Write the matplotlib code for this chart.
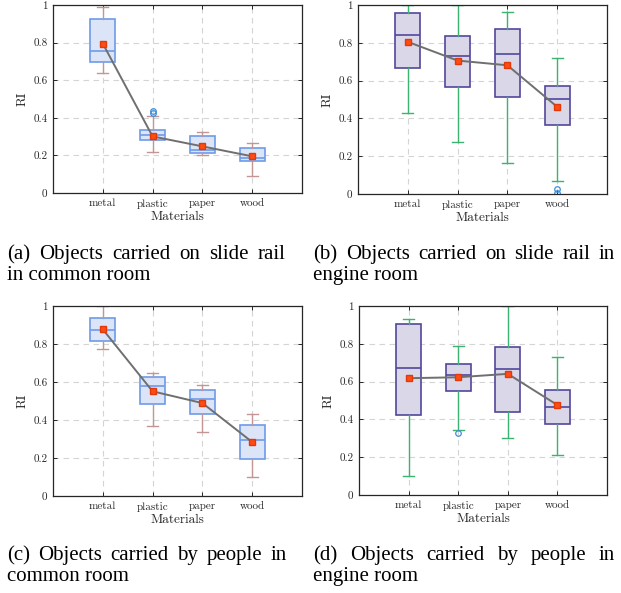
import matplotlib
matplotlib.use("Agg")
import matplotlib.pyplot as plt

plt.rcParams['font.family'] = ['cmr10', 'DejaVu Serif']
plt.rcParams['axes.formatter.use_mathtext'] = True

materials = ["metal", "plastic", "paper", "wood"]
ytick_labels = ["0", "0.2", "0.4", "0.6", "0.8", "1"]

# (a) slide rail, common room
a_q1 = [0.699, 0.280, 0.212, 0.168]
a_med = [0.756, 0.308, 0.228, 0.184]
a_q3 = [0.926, 0.333, 0.301, 0.242]
a_lo = [0.637, 0.218, 0.202, 0.088]
a_hi = [0.988, 0.407, 0.322, 0.264]
a_mean = [0.795, 0.301, 0.248, 0.195]
a_fliers = [[], [0.425, 0.437], [], []]

# (b) slide rail, engine room
b_q1 = [0.669, 0.565, 0.512, 0.364]
b_med = [0.842, 0.729, 0.741, 0.505]
b_q3 = [0.960, 0.835, 0.871, 0.570]
b_lo = [0.430, 0.276, 0.165, 0.070]
b_hi = [1.0, 1.0, 0.965, 0.722]
b_mean = [0.805, 0.706, 0.681, 0.461]
b_fliers = [[], [], [], [0.028, 0.006]]

# (c) people, common room
c_q1 = [0.816, 0.482, 0.430, 0.195]
c_med = [0.872, 0.577, 0.509, 0.296]
c_q3 = [0.937, 0.628, 0.558, 0.375]
c_lo = [0.775, 0.367, 0.339, 0.100]
c_hi = [1.0, 0.647, 0.584, 0.432]
c_mean = [0.877, 0.551, 0.489, 0.284]
c_fliers = [[], [], [], []]

# (d) people, engine room
d_q1 = [0.425, 0.550, 0.437, 0.377]
d_med = [0.674, 0.634, 0.669, 0.464]
d_q3 = [0.906, 0.692, 0.782, 0.556]
d_lo = [0.103, 0.342, 0.301, 0.212]
d_hi = [0.929, 0.789, 1.0, 0.729]
d_mean = [0.618, 0.623, 0.641, 0.476]
d_fliers = [[], [0.329], [], []]

captions = [
    ("(a) Objects carried on slide rail", "in common room"),
    ("(b) Objects carried on slide rail in", "engine room"),
    ("(c) Objects carried by people in", "common room"),
    ("(d) Objects carried by people in", "engine room"),
]

blue_style = dict(face="#dce5f8", edge="#6e9be9", whisker="#c39595")
purple_style = dict(face="#dad7e9", edge="#51479a", whisker="#3cb371")

W, H = 621, 593
fig = plt.figure(figsize=(W / 100, H / 100), dpi=100)


def px_axes(left, top, right, bottom):
    return fig.add_axes([left / W, 1 - bottom / H, (right - left) / W, (bottom - top) / H])


def draw_panel(ax, q1, med, q3, lo, hi, mean, fliers, style):
    stats = []
    for i in range(len(materials)):
        stats.append(dict(q1=q1[i], med=med[i], q3=q3[i], whislo=lo[i],
                          whishi=hi[i], fliers=fliers[i], mean=mean[i]))
    pos = list(range(1, len(materials) + 1))
    ax.bxp(stats, positions=pos, widths=0.5, patch_artist=True,
           capwidths=0.22,
           boxprops=dict(facecolor=style["face"], edgecolor=style["edge"], linewidth=1.2),
           medianprops=dict(color=style["edge"], linewidth=1.2),
           whiskerprops=dict(color=style["whisker"], linewidth=1.0),
           capprops=dict(color=style["whisker"], linewidth=1.0),
           flierprops=dict(marker="o", markerfacecolor="none", markeredgecolor="#3d8ed8",
                           markersize=4, markeredgewidth=0.9),
           zorder=2)
    ax.plot(pos, mean, color="#6f6f6f", linewidth=1.4, marker="s", markersize=4.5,
            markerfacecolor="#ff4b14", markeredgecolor="#e03a0a", zorder=4)
    ax.set_xlim(0, 5)
    ax.set_ylim(0, 1)
    ax.set_xticks(pos)
    ax.set_xticklabels(materials, fontsize=8)
    ax.set_yticks([0, 0.2, 0.4, 0.6, 0.8, 1])
    ax.set_yticklabels(ytick_labels, fontsize=8)
    ax.tick_params(direction="in", top=True, right=True, length=3, width=0.7,
                   colors="#262626", pad=4)
    ax.grid(True, linestyle=(0, (5, 4)), color="#d4d4d4", linewidth=0.8, zorder=0)
    ax.set_axisbelow(True)
    for s in ax.spines.values():
        s.set_color("#262626")
        s.set_linewidth(0.9)
    ax.set_xlabel("Materials", fontsize=9.5, labelpad=1.5, color="#262626")
    ax.set_ylabel("RI", fontsize=9.5, labelpad=3, color="#262626")


axa = px_axes(53, 5, 302, 193)
axb = px_axes(358, 5, 607, 194)
axc = px_axes(53, 306, 302, 496)
axd = px_axes(359, 306, 607, 495)

draw_panel(axa, a_q1, a_med, a_q3, a_lo, a_hi, a_mean, a_fliers, blue_style)
draw_panel(axb, b_q1, b_med, b_q3, b_lo, b_hi, b_mean, b_fliers, purple_style)
draw_panel(axc, c_q1, c_med, c_q3, c_lo, c_hi, c_mean, c_fliers, blue_style)
draw_panel(axd, d_q1, d_med, d_q3, d_lo, d_hi, d_mean, d_fliers, purple_style)

# captions, first line justified like in the paper
renderer = fig.canvas.get_renderer()
cap_kw = dict(family="Liberation Serif", fontsize=15, va="baseline", ha="left")


def justified(text, x0, x1, y):
    words = text.split()
    texts = [fig.text(0, 1 - y / H, w, **cap_kw) for w in words]
    widths = [t.get_window_extent(renderer).width for t in texts]
    gap = (x1 - x0 - sum(widths)) / (len(words) - 1)
    x = x0
    for t, w in zip(texts, widths):
        t.set_x(x / W)
        x += w + gap


col_x = [(7, 285), (313, 615), (7, 287), (313, 615)]
line_y = [(259, 280), (259, 280), (560, 581), (560, 581)]
for (l1, l2), (x0, x1), (y1, y2) in zip(captions, col_x, line_y):
    justified(l1, x0, x1, y1)
    fig.text(x0 / W, 1 - y2 / H, l2, **cap_kw)

fig.savefig("out.png", dpi=100)
